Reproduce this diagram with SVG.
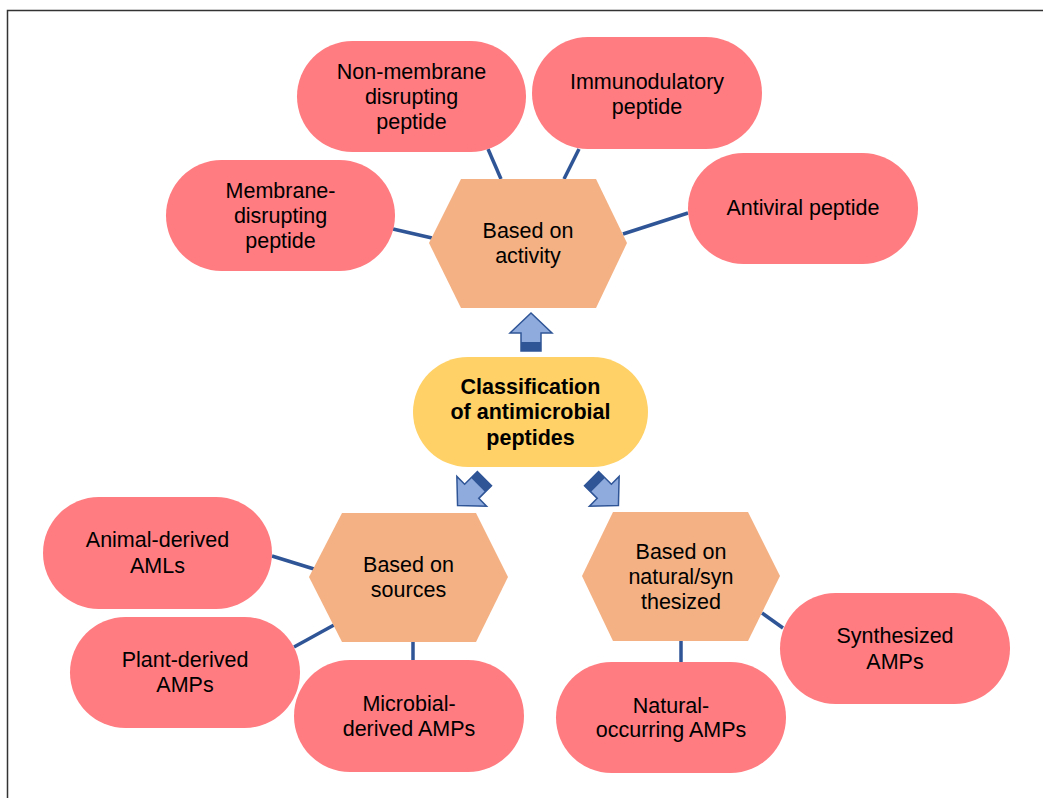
<svg xmlns="http://www.w3.org/2000/svg" width="1043" height="798" viewBox="0 0 1043 798">
<style>
.pill{fill:#FF7C80;}
.hex{fill:#F4B183;}
.center{fill:#FFD166;}
text{font-family:"Liberation Sans",Arial,sans-serif;font-size:21.5px;fill:#000;text-anchor:middle;}
.bold{font-weight:bold;}
.conn{stroke:#2F5597;stroke-width:3.5;fill:none;}
.arrow{fill:#8FAADC;stroke:#2F5597;stroke-width:1.5;stroke-linejoin:miter;}
.arrowdark{fill:#2F5597;}
</style>
<defs>
<g id="blockArrow">
<polygon class="arrow" points="0,-19 21,1 10,1 10,19 -10,19 -10,1 -21,1"/>
<rect class="arrowdark" x="-10" y="10" width="20" height="9"/>
</g>
</defs>
<rect x="7.5" y="10.5" width="1100" height="900" fill="#fff" stroke="#333" stroke-width="1.5"/>
<g id="connectors">
<line class="conn" x1="393" y1="229" x2="432" y2="238"/>
<line class="conn" x1="488" y1="149" x2="501" y2="179"/>
<line class="conn" x1="579" y1="149" x2="564" y2="179"/>
<line class="conn" x1="623" y1="234" x2="688" y2="213"/>
<line class="conn" x1="272" y1="556" x2="314" y2="569"/>
<line class="conn" x1="294" y1="647" x2="334" y2="625"/>
<line class="conn" x1="413" y1="642" x2="413" y2="660"/>
<line class="conn" x1="681" y1="641" x2="681" y2="662"/>
<line class="conn" x1="762" y1="613" x2="783" y2="628"/>
<use href="#blockArrow" transform="translate(531,332)"/>
<use href="#blockArrow" transform="translate(471,492) rotate(225)"/>
<use href="#blockArrow" transform="translate(605,492) rotate(135)"/>
</g>
<g id="node-center">
<rect class="center" x="413" y="357" width="235" height="110" rx="55"/>
<text class="bold" x="530.5" y="394">Classification</text>
<text class="bold" x="530.5" y="419">of antimicrobial</text>
<text class="bold" x="530.5" y="445">peptides</text>
</g>
<g id="node-activity">
<polygon class="hex" points="429,243 461,179 596,179 627,243 596,308 461,308"/>
<text x="528" y="238">Based on</text>
<text x="528" y="263">activity</text>
</g>
<g id="node-nonmembrane">
<rect class="pill" x="297" y="41" width="229" height="111" rx="55.5"/>
<text x="411.5" y="79">Non-membrane</text>
<text x="411.5" y="104">disrupting</text>
<text x="411.5" y="129">peptide</text>
</g>
<g id="node-membrane">
<rect class="pill" x="166" y="160" width="229" height="111" rx="55.5"/>
<text x="280.5" y="198">Membrane-</text>
<text x="280.5" y="223">disrupting</text>
<text x="280.5" y="248">peptide</text>
</g>
<g id="node-immuno">
<rect class="pill" x="532" y="37" width="230" height="112" rx="56"/>
<text x="647" y="89">Immunodulatory</text>
<text x="647" y="114">peptide</text>
</g>
<g id="node-antiviral">
<rect class="pill" x="688" y="153" width="230" height="111" rx="55.5"/>
<text x="803" y="215">Antiviral peptide</text>
</g>
<g id="node-sources">
<polygon class="hex" points="309,577 342,513 476,513 508,577 476,642 342,642"/>
<text x="408.5" y="572">Based on</text>
<text x="408.5" y="597">sources</text>
</g>
<g id="node-animal">
<rect class="pill" x="43" y="497" width="229" height="112" rx="56"/>
<text x="157.5" y="547">Animal-derived</text>
<text x="157.5" y="573">AMLs</text>
</g>
<g id="node-plant">
<rect class="pill" x="70" y="617" width="230" height="111" rx="55.5"/>
<text x="185" y="667">Plant-derived</text>
<text x="185" y="692">AMPs</text>
</g>
<g id="node-microbial">
<rect class="pill" x="294" y="660" width="230" height="112" rx="56"/>
<text x="409" y="711">Microbial-</text>
<text x="409" y="736">derived AMPs</text>
</g>
<g id="node-natsyn">
<polygon class="hex" points="582,576 613,512 748,512 780,576 748,641 613,641"/>
<text x="681" y="559">Based on</text>
<text x="681" y="584">natural/syn</text>
<text x="681" y="609">thesized</text>
</g>
<g id="node-synthesized">
<rect class="pill" x="780" y="593" width="230" height="111" rx="55.5"/>
<text x="895" y="643">Synthesized</text>
<text x="895" y="669">AMPs</text>
</g>
<g id="node-natural">
<rect class="pill" x="556" y="662" width="230" height="111" rx="55.5"/>
<text x="671" y="713">Natural-</text>
<text x="671" y="737">occurring AMPs</text>
</g>
</svg>
